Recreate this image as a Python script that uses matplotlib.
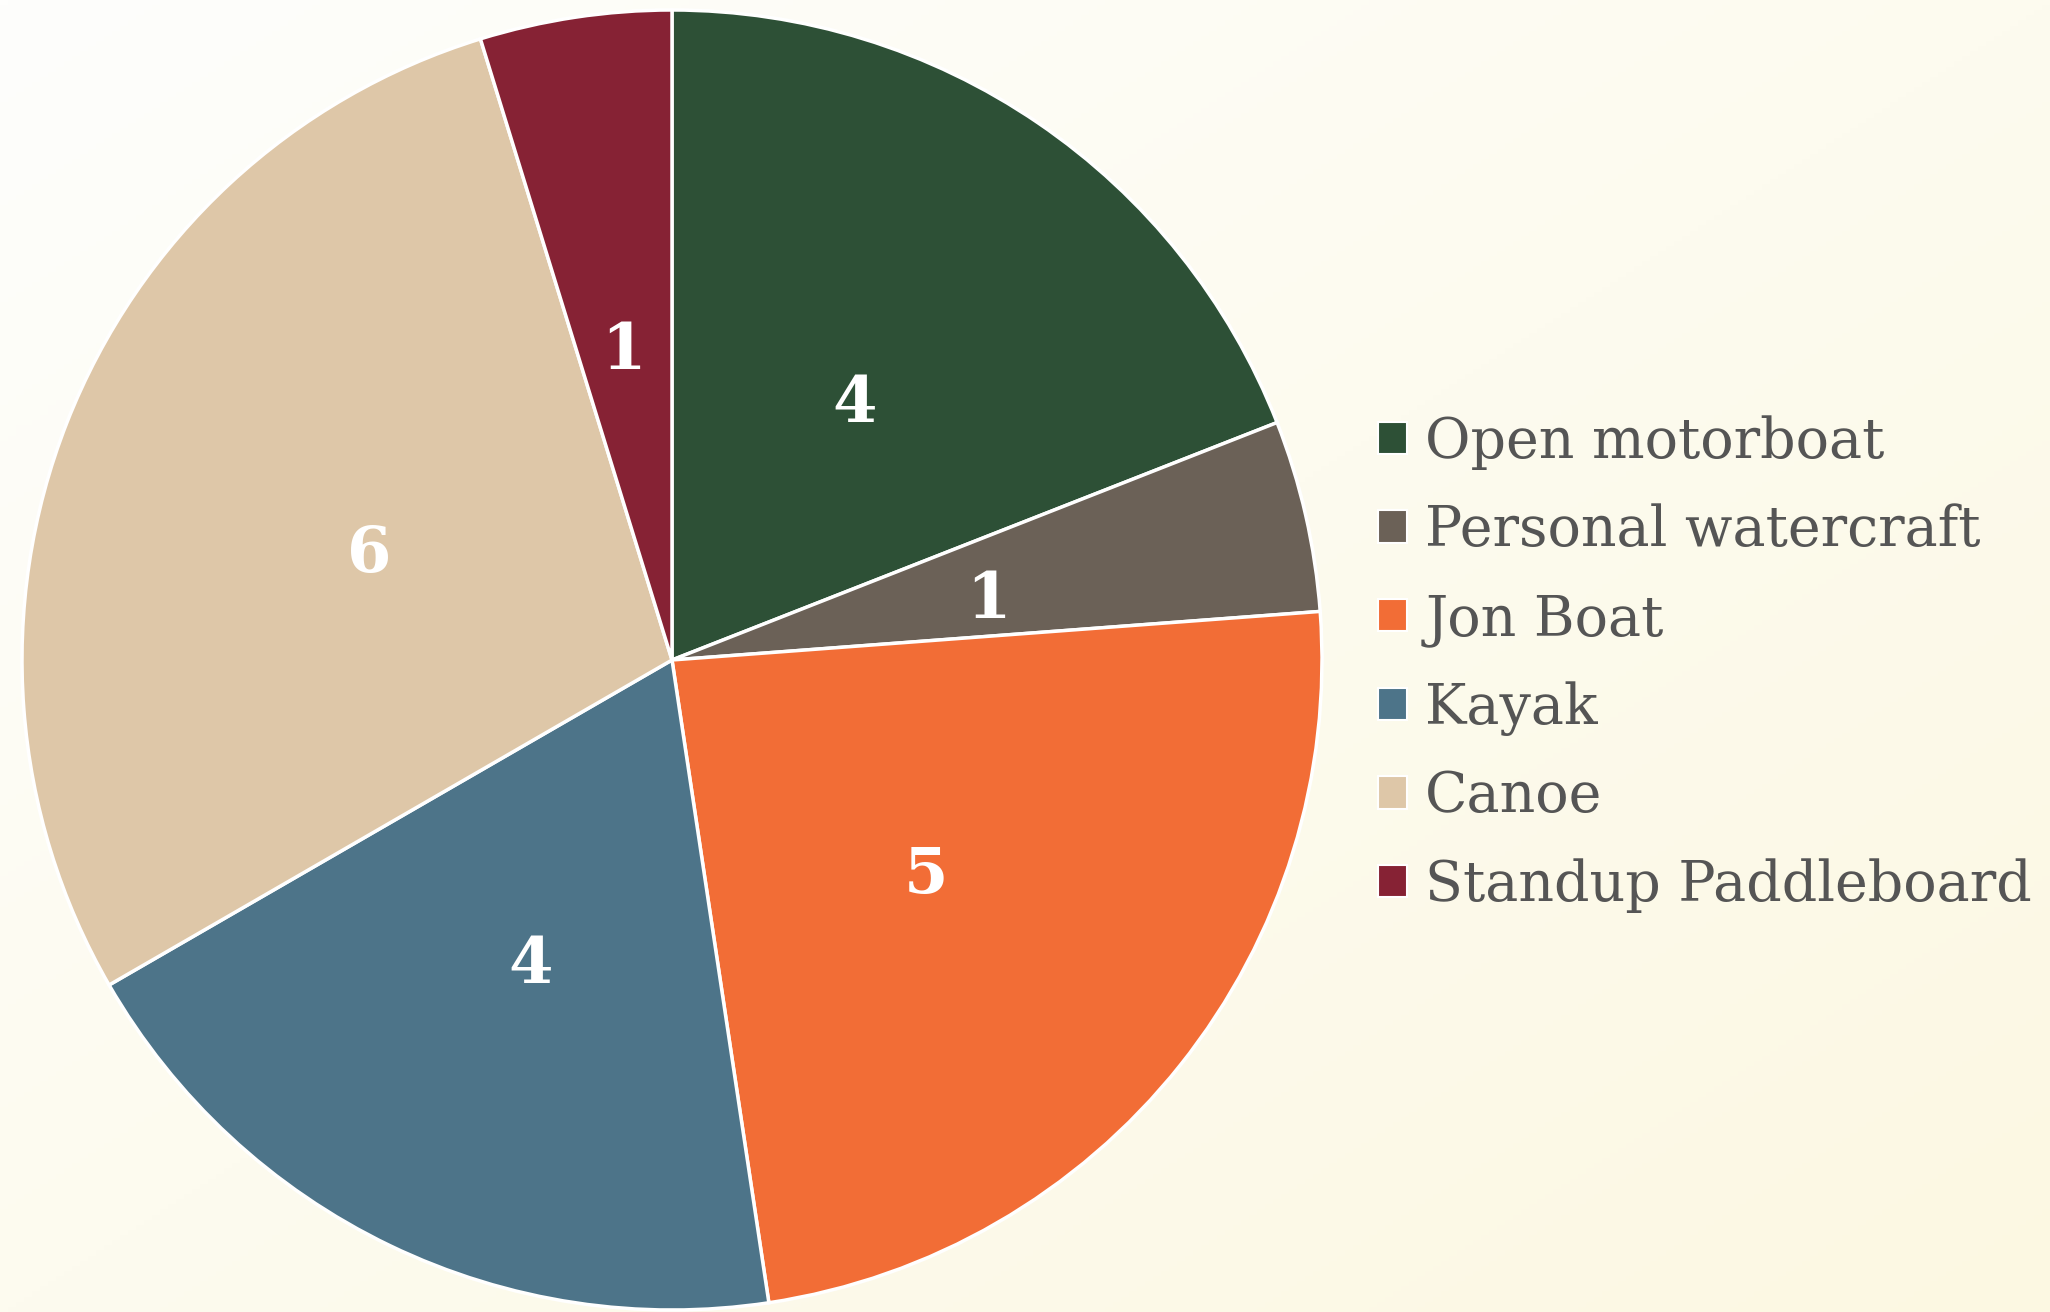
import numpy as np
import matplotlib as mpl
mpl.use('Agg')
import matplotlib.pyplot as plt
from matplotlib.patches import Patch
from matplotlib.colors import to_rgb
from matplotlib.transforms import offset_copy

labels = ['Open motorboat', 'Personal watercraft', 'Jon Boat', 'Kayak', 'Canoe', 'Standup Paddleboard']
counts = [4, 1, 5, 4, 6, 1]
colors = ['#2d5036', '#6b6157', '#f26d36', '#4d7489', '#dec7a8', '#862234']

W, H = 2050, 1312
fig = plt.figure(figsize=(W / 100, H / 100), dpi=100)

# background: soft diagonal gradient, white top-left to cream bottom-right
bg = fig.add_axes([0, 0, 1, 1])
xx, yy = np.meshgrid(np.linspace(0, 1, 256), np.linspace(0, 1, 256))
t = (xx + yy) / 2
c0 = np.array(to_rgb('#fefefc'))
c1 = np.array(to_rgb('#fcf8e2'))
img = c0[None, None, :] * (1 - t[..., None]) + c1[None, None, :] * t[..., None]
bg.imshow(img, extent=[0, 1, 0, 1], aspect='auto', origin='upper')
bg.axis('off')

# pie
R = 650
cx, cy = 672, 660
ax = fig.add_axes([(cx - R) / W, (H - cy - R) / H, 2 * R / W, 2 * R / H])
wedges, texts = ax.pie(counts, colors=colors, startangle=90, counterclock=False,
                       labels=[str(c) for c in counts], labeldistance=0.5,
                       wedgeprops=dict(edgecolor='white', linewidth=2.5))
for t_ in texts:
    t_.set_ha('center')
    t_.set_va('center')
    t_.set_color('white')
    t_.set_fontsize(46)
    t_.set_fontweight('bold')
    t_.set_family('DejaVu Serif')
    t_.set_transform(offset_copy(t_.get_transform(), fig=fig, x=0, y=-13, units='dots'))
ax.set_xlim(-1, 1)
ax.set_ylim(-1, 1)
ax.set_aspect('equal')
ax.axis('off')

handles = [Patch(facecolor=c, edgecolor='white', linewidth=1.5) for c in colors]
leg = fig.legend(handles, labels, loc='center left', bbox_to_anchor=(1378 / W, 0.494),
                 frameon=False, prop=dict(family='DejaVu Serif', size=40),
                 handlelength=0.52, handleheight=0.52, handletextpad=0.33,
                 labelspacing=0.61, borderpad=0, borderaxespad=0)
for txt in leg.get_texts():
    txt.set_color('#555555')

fig.savefig('out.png', dpi=100)
